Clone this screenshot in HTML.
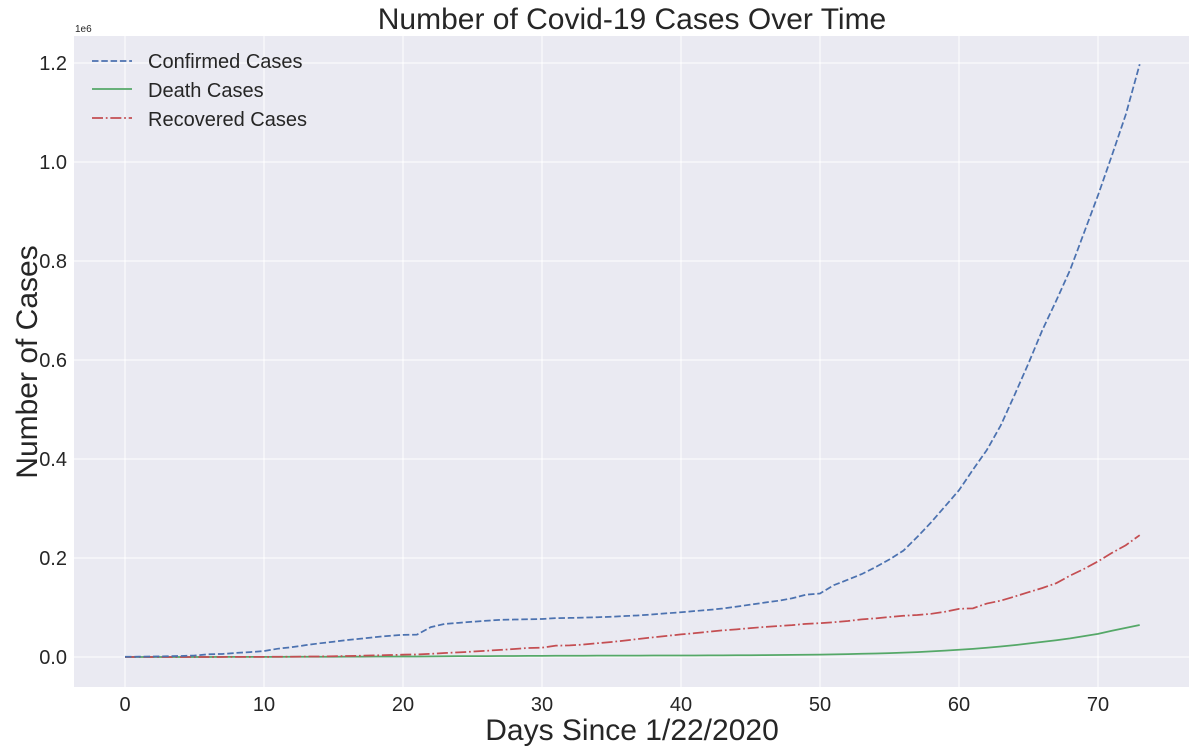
<!DOCTYPE html>
<html><head><meta charset="utf-8"><style>
html,body{margin:0;padding:0;background:#fff;}
svg{display:block;font-family:"Liberation Sans",sans-serif;}
</style></head><body>
<svg id="chart" width="1197" height="752">
<rect x="74" y="36" width="1115" height="651" fill="#EAEAF2"/>
<g id="grid"></g><g id="lines"></g><g id="ticks"></g>
<text x="632" y="29" text-anchor="middle" font-size="30" fill="#262626">Number of Covid-19 Cases Over Time</text>
<text x="632" y="740" text-anchor="middle" font-size="30" fill="#262626">Days Since 1/22/2020</text>
<text transform="translate(37,362) rotate(-90)" text-anchor="middle" font-size="30" fill="#262626">Number of Cases</text>
<text x="75" y="32" font-size="10" fill="#262626">1e6</text>
<g>
<line x1="92" y1="61" x2="132" y2="61" stroke="#4C72B0" stroke-width="1.75" stroke-dasharray="6.5,2.8"/>
<text x="148" y="68" font-size="20" fill="#262626">Confirmed Cases</text>
<line x1="92" y1="89" x2="132" y2="89" stroke="#55A868" stroke-width="1.75"/>
<text x="148" y="97" font-size="20" fill="#262626">Death Cases</text>
<line x1="92" y1="118" x2="132" y2="118" stroke="#C44E52" stroke-width="1.75" stroke-dasharray="11,2.8,1.75,2.8"/>
<text x="148" y="126" font-size="20" fill="#262626">Recovered Cases</text>
</g>
</svg>
<script>
const confirmed=[555,654,941,1434,2118,2927,5578,6166,8234,9927,12038,16787,19881,23892,27635,30794,34391,37120,40150,42762,44802,45221,60368,66885,69030,71224,73258,75136,75639,76197,76819,78572,78958,79561,80406,81388,82746,84112,86011,88369,90306,92840,95120,97886,101801,105847,109821,113590,118620,125875,128352,145205,156101,167454,181574,197102,214821,242570,272208,304507,336953,378235,418045,467653,529591,593291,660706,720117,782365,857487,932605,1013157,1095917,1197405];
const deaths=[17,18,26,42,56,82,131,133,171,213,259,362,426,492,564,634,719,806,906,1013,1113,1118,1371,1523,1666,1770,1868,2007,2122,2247,2251,2458,2469,2629,2708,2770,2814,2872,2941,2996,3085,3160,3254,3348,3460,3558,3803,3996,4262,4615,4720,5404,5819,6440,7126,7905,8733,9867,11299,12973,14651,16505,18625,21181,23970,27198,30652,33925,37582,42107,46809,52983,58787,64606];
const recovered=[28,30,36,39,52,61,107,126,143,222,284,472,623,852,1124,1487,2011,2616,3244,3946,4683,5150,6295,8058,9395,10865,12583,14352,16121,18177,18890,22886,23394,25227,27905,30384,33277,36711,39782,42716,45602,48228,51170,53796,55865,58358,60694,62494,64404,67003,68324,70251,72624,76034,78088,80840,83207,84854,87256,91424,97243,98334,108000,113787,122150,130915,139415,149082,164566,178034,193177,210263,225796,246152];
const xTicks=[0,10,20,30,40,50,60,70];
const yTicks=[0,0.2,0.4,0.6,0.8,1.0,1.2];
const NS="http://www.w3.org/2000/svg";
const X=d=>125+d*13.9;
const Y=v=>657-v/1e6*495;
function mk(t,a,p){const e=document.createElementNS(NS,t);for(const k in a)e.setAttribute(k,a[k]);p.appendChild(e);return e;}
const grid=document.getElementById('grid'),ticks=document.getElementById('ticks'),lines=document.getElementById('lines');
xTicks.forEach(t=>{
 const l=mk('line',{x1:X(t),x2:X(t),y1:36,y2:687,stroke:'#fff','stroke-width':1},grid);
 
 
 const tx=mk('text',{x:X(t),y:711,'text-anchor':'middle','font-size':20,fill:'#262626'},ticks);
 tx.textContent=t;
 
 
});
yTicks.forEach(t=>{
 const l=mk('line',{x1:74,x2:1189,y1:Y(t*1e6),y2:Y(t*1e6),stroke:'#fff','stroke-width':1},grid);
 
 
 const tx=mk('text',{x:67,y:Y(t*1e6)+7,'text-anchor':'end','font-size':20,fill:'#262626'},ticks);
 tx.textContent=t.toFixed(1);
 
 
});
function series(arr,color,dash,name){
 const d=arr.map((v,i)=>(i?'L':'M')+X(i).toFixed(2)+','+Y(v).toFixed(2)).join('');
 const p=mk('path',{d:d,fill:'none',stroke:color,'stroke-width':1.75},lines);
 if(dash)p.setAttribute('stroke-dasharray',dash);
 
 
}
series(deaths,'#55A868',null,'death-cases-line');
series(recovered,'#C44E52','11,2.8,1.75,2.8','recovered-cases-line');
series(confirmed,'#4C72B0','6.5,2.8','confirmed-cases-line');
</script>
</body></html>
